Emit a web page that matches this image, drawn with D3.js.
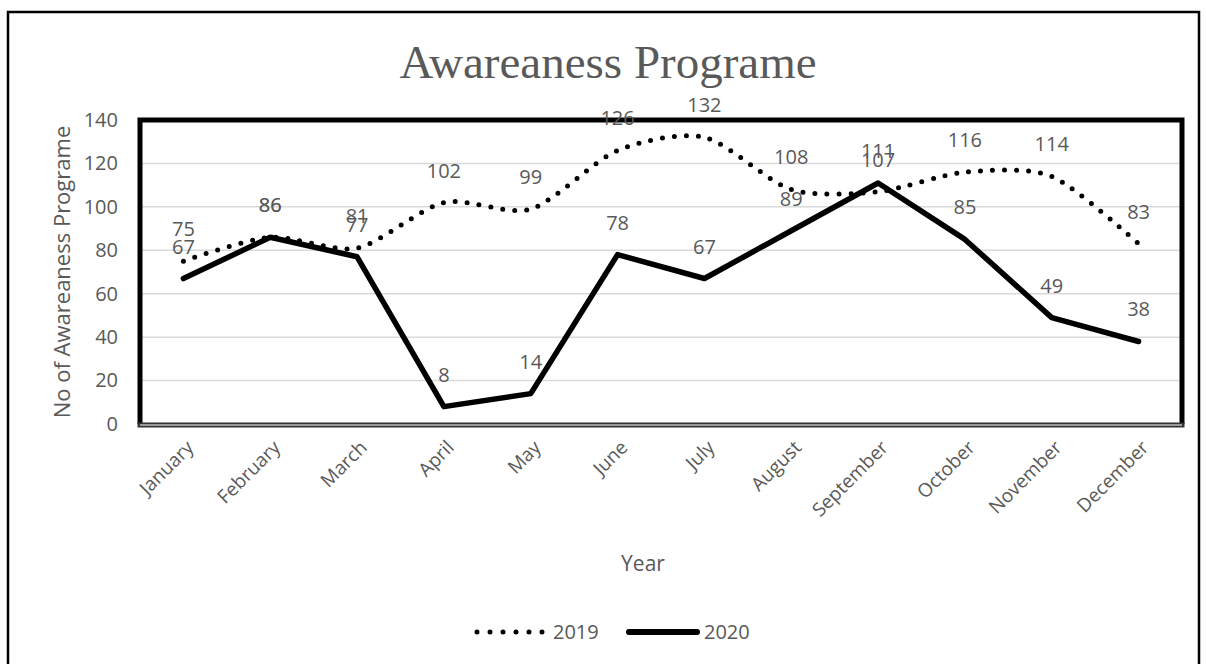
<!DOCTYPE html>
<html>
<head>
<meta charset="utf-8">
<script src="https://cdn.jsdelivr.net/npm/d3@7"></script>
<style>
  body { margin: 0; background: #fff; }
  text { font-family: "Open Sans", sans-serif; fill: #595959; }
</style>
</head>
<body>
<div id="container"></div>
<script>
// values
const months = ["January", "February", "March", "April", "May", "June",
  "July", "August", "September", "October", "November", "December"];
const values2019 = [75, 86, 81, 102, 99, 126, 132, 108, 107, 116, 114, 83];
const values2020 = [67, 86, 77, 8, 14, 78, 67, 89, 111, 85, 49, 38];
const yTicks = [0, 20, 40, 60, 80, 100, 120, 140];
const seriesNames = ["2019", "2020"];

const width = 1206, height = 664;
const plot = {left: 140, right: 1182, top: 120, bottom: 424};

const viz = d3.select("#container")
  .append("svg")
  .attr("width", width)
  .attr("height", height);

// outer chart border
viz.append("rect")
  .attr("x", 8).attr("y", 12)
  .attr("width", 1191).attr("height", 700)
  .attr("fill", "none")
  .attr("stroke", "#000")
  .attr("stroke-width", 2.5);

let x = d3.scalePoint()
  .domain(months)
  .range([plot.left, plot.right])
  .padding(0.5);
let y = d3.scaleLinear()
  .domain([0, 140])
  .range([plot.bottom, plot.top]);

// gridlines
viz.append("g")
  .selectAll("line")
  .data(yTicks.slice(1))
  .join("line")
  .attr("x1", plot.left).attr("x2", plot.right)
  .attr("y1", d => y(d)).attr("y2", d => y(d))
  .attr("stroke", "#d9d9d9")
  .attr("stroke-width", 1.5);

// y axis labels
let yAxis = d3.axisLeft(y).tickValues(yTicks).tickSize(0).tickPadding(22);
viz.append("g")
  .attr("transform", `translate(${plot.left}, 0)`)
  .call(yAxis)
  .call(g => g.select(".domain").remove())
  .selectAll("text")
  .attr("font-size", 20)
  .attr("font-family", "Open Sans")
  .attr("fill", "#595959");

// x axis labels, rotated
let xAxis = d3.axisBottom(x).tickSize(0).tickPadding(0);
let xG = viz.append("g")
  .attr("transform", `translate(0, ${plot.bottom})`)
  .call(xAxis);
xG.select(".domain").remove();
xG.selectAll("text")
  .attr("font-size", 19)
  .attr("font-family", "Open Sans")
  .attr("fill", "#595959")
  .attr("text-anchor", "end")
  .attr("y", 0).attr("dy", "0.35em")
  .attr("transform", "translate(6, 20) rotate(-45)");

// plot frame: thick left/top/right, double line at the bottom
viz.append("path")
  .attr("d", `M${plot.left},${plot.bottom} V${plot.top} H${plot.right} V${plot.bottom}`)
  .attr("fill", "none")
  .attr("stroke", "#000")
  .attr("stroke-width", 5);
viz.append("line")
  .attr("x1", plot.left - 2.5).attr("x2", plot.right + 2.5)
  .attr("y1", plot.bottom + 1).attr("y2", plot.bottom + 1)
  .attr("stroke", "#333")
  .attr("stroke-width", 5);
viz.append("line")
  .attr("x1", plot.left).attr("x2", plot.right)
  .attr("y1", plot.bottom + 1).attr("y2", plot.bottom + 1)
  .attr("stroke", "#fff")
  .attr("stroke-width", 1.2);

// lines
let smooth = d3.line()
  .x((d, i) => x(months[i]))
  .y(d => y(d))
  .curve(d3.curveCardinal.tension(0.2));
let straight = d3.line()
  .x((d, i) => x(months[i]))
  .y(d => y(d));

viz.append("path")
  .attr("d", smooth(values2019))
  .attr("fill", "none")
  .attr("stroke", "#000")
  .attr("stroke-width", 5)
  .attr("stroke-linecap", "round")
  .attr("stroke-dasharray", "0 12");

viz.append("path")
  .attr("d", straight(values2020))
  .attr("fill", "none")
  .attr("stroke", "#000")
  .attr("stroke-width", 5.5)
  .attr("stroke-linejoin", "round")
  .attr("stroke-linecap", "round");

// data labels, above each point
[values2019, values2020].forEach(vals => {
  viz.append("g")
    .selectAll("text")
    .data(vals)
    .join("text")
    .attr("x", (d, i) => x(months[i]))
    .attr("y", d => y(d) - 25)
    .attr("text-anchor", "middle")
    .attr("font-size", 20)
    .text(d => d);
});

// title and axis titles
viz.append("text")
  .attr("x", 608).attr("y", 78)
  .attr("text-anchor", "middle")
  .attr("font-size", 47)
  .style("font-family", "'Liberation Serif', 'Times New Roman', serif")
  .text("Awareaness Programe");

viz.append("text")
  .attr("transform", `translate(70, ${(plot.top + plot.bottom) / 2}) rotate(-90)`)
  .attr("text-anchor", "middle")
  .attr("font-size", 22)
  .text("No of Awareaness Programe");

viz.append("text")
  .attr("x", 643).attr("y", 571)
  .attr("text-anchor", "middle")
  .attr("font-size", 21)
  .text("Year");

// legend
let legend = viz.append("g").attr("transform", "translate(477, 632)");
legend.append("line")
  .attr("x1", 0).attr("x2", 66)
  .attr("stroke", "#000")
  .attr("stroke-width", 5)
  .attr("stroke-linecap", "round")
  .attr("stroke-dasharray", "0 13");
legend.append("text")
  .attr("x", 76).attr("dy", "0.35em")
  .attr("font-size", 20)
  .text(seriesNames[0]);
legend.append("line")
  .attr("x1", 152).attr("x2", 220)
  .attr("stroke", "#000")
  .attr("stroke-width", 6)
  .attr("stroke-linecap", "round");
legend.append("text")
  .attr("x", 227).attr("dy", "0.35em")
  .attr("font-size", 20)
  .text(seriesNames[1]);
</script>
</body>
</html>
